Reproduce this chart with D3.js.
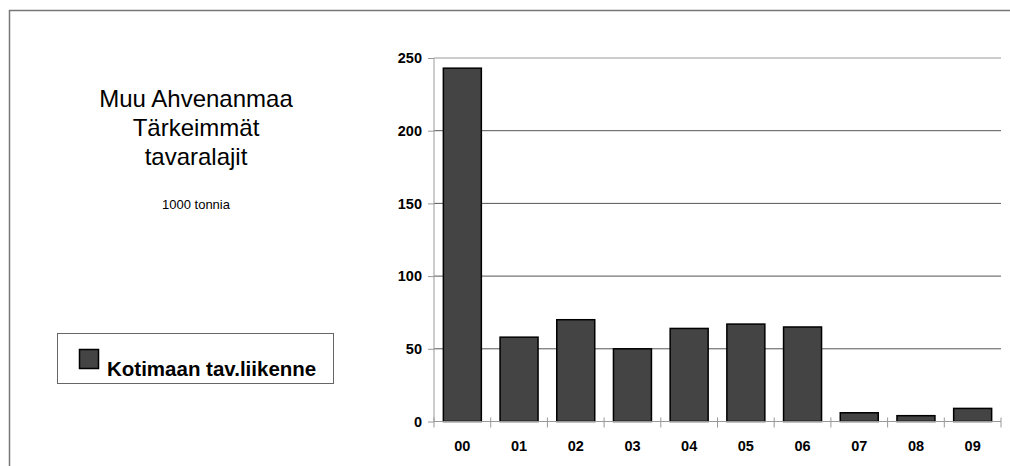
<!DOCTYPE html>
<html><head><meta charset="utf-8">
<script src="https://cdn.jsdelivr.net/npm/d3@7"></script>
<style>body{margin:0;background:#fff;overflow:hidden}svg{display:block}</style>
</head><body>
<svg id="c" width="1010" height="466"></svg>
<script>
const categories = ["00","01","02","03","04","05","06","07","08","09"];
const values = [243, 58, 70, 50, 64, 67, 65, 6, 4, 9];
const yTicks = [0, 50, 100, 150, 200, 250];
const titleLines = ["Muu Ahvenanmaa", "Tärkeimmät", "tavaralajit"];
const subtitle = "1000 tonnia";
const seriesName = "Kotimaan tav.liikenne";

const svg = d3.select("#c");
const font = "'Liberation Sans', Arial, sans-serif";

// outer frame (top and left edges visible)
svg.append("path").attr("d", "M1010,10.5H9.5V466")
  .attr("fill", "none").attr("stroke", "#777").attr("stroke-width", 1.5);

const L = 434, R = 1001, T = 58, B = 421.5;
const x = d3.scaleBand().domain(categories).range([L, R]).paddingInner(0.33).paddingOuter(0.165);
const y = d3.scaleLinear().domain([0, 250]).range([B, T]);

// gridlines
svg.append("g").selectAll("line").data(yTicks.filter(d => d > 0)).join("line")
  .attr("x1", L).attr("x2", R).attr("y1", d => y(d)).attr("y2", d => y(d))
  .attr("stroke", d => d === 250 ? "#9a9a9a" : "#555").attr("stroke-width", 1);

// bars
svg.append("g").selectAll("rect").data(values).join("rect")
  .attr("x", (d, i) => x(categories[i])).attr("width", x.bandwidth())
  .attr("y", d => y(d)).attr("height", d => B - y(d))
  .attr("fill", "#444").attr("stroke", "#000").attr("stroke-width", 1.5);

// y axis
const ya = svg.append("g").attr("transform", `translate(${L},0)`)
  .call(d3.axisLeft(y).tickValues(yTicks).tickSize(6).tickPadding(6));
ya.select(".domain").attr("stroke", "#999").attr("d", `M0,${T}V${B}`);
ya.selectAll(".tick line").attr("stroke", "#999");
ya.selectAll("text").attr("font-family", font).attr("font-size", 14.5).attr("font-weight", "bold").attr("fill", "#000");

// x axis
const xa = svg.append("g").attr("transform", `translate(0,${B})`)
  .call(d3.axisBottom(x).tickSize(0).tickPadding(19));
xa.select(".domain").attr("stroke", "#999").attr("d", `M${L},0H${R}`);
xa.selectAll("text").attr("font-family", font).attr("font-size", 14.5).attr("font-weight", "bold").attr("fill", "#000");
// boundary ticks
const bounds = d3.range(categories.length + 1).map(i => L + i * (R - L) / categories.length);
xa.append("g").selectAll("line").data(bounds).join("line")
  .attr("x1", d => d).attr("x2", d => d).attr("y1", -4).attr("y2", 6).attr("stroke", "#999");

// title
svg.append("text").attr("x", 196).attr("y", 107).attr("text-anchor", "middle")
  .attr("font-family", font).attr("font-size", 24).attr("fill", "#000")
  .selectAll("tspan").data(titleLines).join("tspan")
  .attr("x", 196).attr("dy", (d, i) => i === 0 ? 0 : 29).text(d => d);
svg.append("text").attr("x", 196).attr("y", 209).attr("text-anchor", "middle")
  .attr("font-family", font).attr("font-size", 13).attr("fill", "#000").text(subtitle);

// legend
svg.append("rect").attr("x", 57.5).attr("y", 333.5).attr("width", 276).attr("height", 50)
  .attr("fill", "#fff").attr("stroke", "#666").attr("stroke-width", 1);
svg.append("rect").attr("x", 79.5).attr("y", 349.5).attr("width", 19).attr("height", 19)
  .attr("fill", "#444").attr("stroke", "#000").attr("stroke-width", 1.5);
svg.append("text").attr("x", 107).attr("y", 376).attr("font-family", font)
  .attr("font-size", 20.5).attr("font-weight", "bold").attr("fill", "#000").text(seriesName);
</script>
</body></html>
